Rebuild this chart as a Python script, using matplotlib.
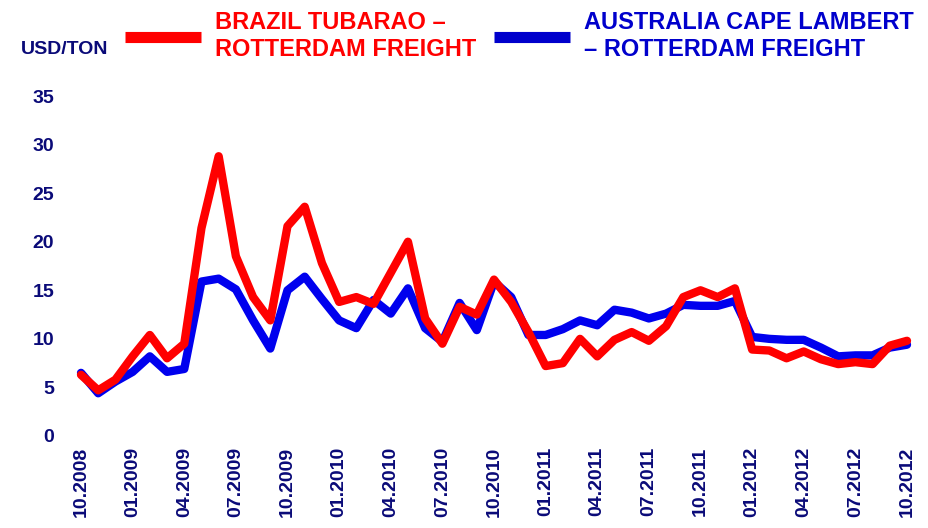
"""
Iron ore freight rates to Rotterdam: Brazil (Tubarao) vs Australia (Cape Lambert).
"""
import numpy as np
import matplotlib
matplotlib.use("Agg")
from matplotlib import pyplot as plt

# Monthly freight, USD/ton, 10.2008 .. 10.2012
brazil_freight = [
    6.3, 4.7, 5.8, 8.2, 10.4, 8.0, 9.5, 21.4, 28.8, 18.5, 14.3, 11.9,
    21.6, 23.6, 17.8, 13.8, 14.3, 13.6, 16.8, 20.0, 12.1, 9.5, 13.3, 12.5,
    16.1, 13.8, 10.7, 7.2, 7.5, 10.0, 8.2, 9.9, 10.7, 9.8, 11.3, 14.3,
    15.0, 14.3, 15.2, 8.9, 8.8, 8.0, 8.7, 7.9, 7.4, 7.6, 7.4, 9.3, 9.8,
]
australia_freight = [
    6.5, 4.4, 5.6, 6.6, 8.2, 6.6, 6.9, 15.9, 16.2, 15.1, 11.9, 9.0,
    15.0, 16.4, 14.1, 11.9, 11.1, 14.0, 12.6, 15.2, 11.1, 9.7, 13.7, 10.9,
    15.9, 14.3, 10.4, 10.4, 11.0, 11.9, 11.4, 13.0, 12.7, 12.1, 12.6, 13.5,
    13.4, 13.4, 13.9, 10.2, 10.0, 9.9, 9.9, 9.1, 8.2, 8.3, 8.3, 9.1, 9.4,
]
tick_labels = [
    "10.2008", "01.2009", "04.2009", "07.2009", "10.2009", "01.2010",
    "04.2010", "07.2010", "10.2010", "01.2011", "04.2011", "07.2011",
    "10.2011", "01.2012", "04.2012", "07.2012", "10.2012",
]
y_ticks = [0, 5, 10, 15, 20, 25, 30, 35]

series_labels = ["BRAZIL TUBARAO \u2013\nROTTERDAM FREIGHT",
                 "AUSTRALIA CAPE LAMBERT\n\u2013 ROTTERDAM FREIGHT"]

NAVY = "#0a0a78"
RED = "#ff0000"
BLUE = "#0000ee"
FONT = "Liberation Sans"

W, H = 929, 528
fig = plt.figure(figsize=(W / 100, H / 100), dpi=100)

# axes placed so that month 0 sits at x=81px, month 48 at 907px, 0..35 spans y 436..96
ax = fig.add_axes([72.4 / W, (H - 436) / H, (915.6 - 72.4) / W, 340 / H])

x = np.arange(len(brazil_freight))
line_au, = ax.plot(x, australia_freight, color=BLUE, lw=6,
                   solid_joinstyle="round", solid_capstyle="round", clip_on=False)
line_br, = ax.plot(x, brazil_freight, color=RED, lw=6,
                   solid_joinstyle="round", solid_capstyle="round", clip_on=False)

ax.set_xlim(-0.5, len(x) - 0.5)
ax.set_ylim(0, 35)

ax.set_xticks(x[::3])
ax.set_xticklabels(tick_labels, rotation=90, ha="center", va="top")
ax.set_yticks(y_ticks)
ax.set_yticklabels([str(v) for v in y_ticks])

for lbl in ax.get_xticklabels() + ax.get_yticklabels():
    lbl.set_fontfamily(FONT)
    lbl.set_fontweight("bold")
    lbl.set_fontsize(14)
    lbl.set_color(NAVY)

ax.tick_params(axis="both", length=0)
ax.tick_params(axis="y", pad=13)
ax.tick_params(axis="x", pad=7.5)

for side in ax.spines.values():
    side.set_visible(False)

# unit label
fig.text(20.5 / W, 1 - 54.5 / H, "USD/TON", family=FONT, weight="bold",
         fontsize=14, color=NAVY, ha="left", va="baseline")

# legend at the top
leg = fig.legend([line_br, line_au], series_labels, loc="upper left",
                 bbox_to_anchor=(125 / W, 1 - 11 / H), ncol=2, frameon=False,
                 borderpad=0, borderaxespad=0, handlelength=3.22,
                 handletextpad=0.6, columnspacing=0.75,
                 prop=dict(family=FONT, weight="bold", size=17))
for txt, col in zip(leg.get_texts(), [RED, "#0000cc"]):
    txt.set_color(col)
    txt.set_linespacing(1.25)
for h, col in zip(leg.legend_handles, [RED, "#0000cc"]):
    h.set_linewidth(8)
    h.set_solid_capstyle("butt")
    h.set_color(col)

fig.savefig("out.png", dpi=100)
